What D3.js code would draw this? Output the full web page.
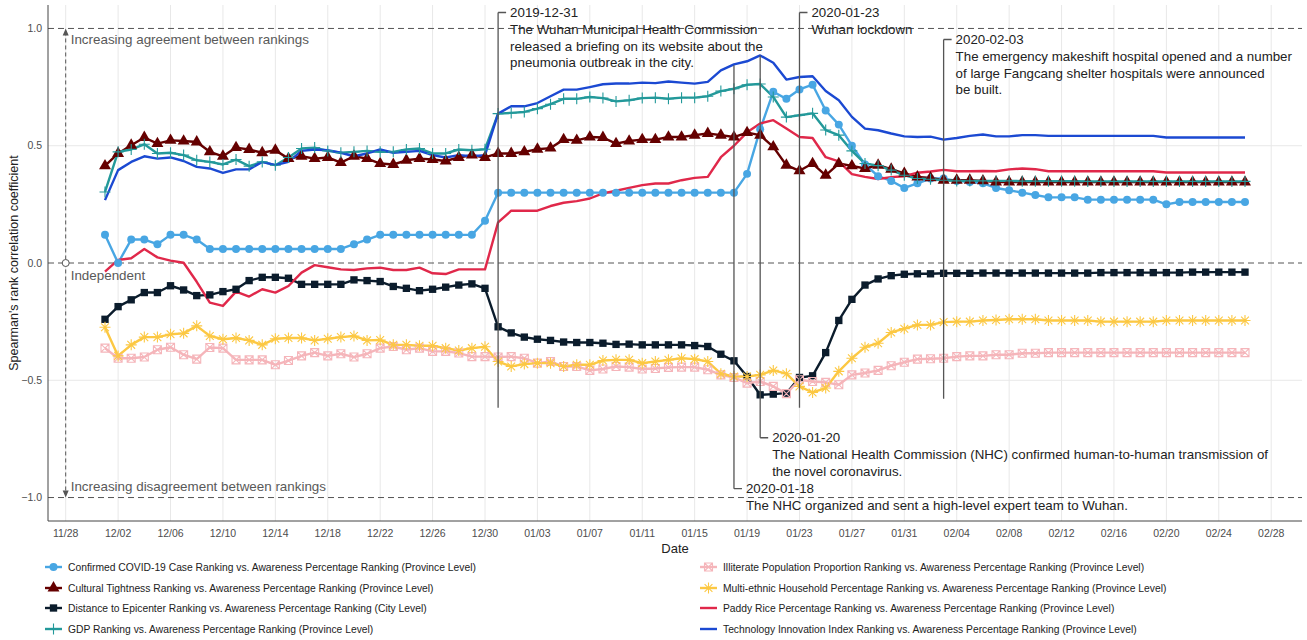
<!DOCTYPE html>
<html>
<head>
<meta charset="utf-8">
<script src="https://cdn.jsdelivr.net/npm/d3@7"></script>
<style>
body { margin: 0; background: #fff; }
svg { font-family: "Liberation Sans", Arial, sans-serif; display: block; }
</style>
</head>
<body>
<svg id="chart"></svg>
<script>
const W = 1307, H = 640;

// one value per day, 2019-12-01 .. 2020-02-26
const dates = d3.utcDay.range(new Date(Date.UTC(2019, 11, 1)), new Date(Date.UTC(2020, 1, 27)));

const confirmed = [0.12,0.00,0.10,0.10,0.08,0.12,0.12,0.10,
	0.06,0.06,0.06,0.06,0.06,0.06,0.06,0.06,0.06,0.06,0.06,
	0.08,0.10,0.12,0.12,0.12,0.12,0.12,0.12,0.12,0.12,0.18,
	0.30,0.30,0.30,0.30,0.30,0.30,0.30,0.30,0.30,0.30,0.30,0.30,0.30,0.30,0.30,0.30,0.30,0.30,0.30,
	0.38,0.57,0.73,0.70,0.74,0.76,0.65,0.59,0.50,0.42,0.37,0.35,0.32,0.34,0.36,0.36,0.35,0.345,0.34,0.32,0.31,0.30,0.29,0.28,0.28,0.28,
	0.27,0.27,0.27,0.27,0.27,0.27,0.25,0.26,0.26,0.26,0.26,0.26,0.26];

const cultural = [0.414,0.467,0.502,0.535,0.509,0.523,0.52,0.516,0.474,0.455,0.492,0.484,0.47,0.481,0.445,0.455,0.445,0.45,0.428,0.455,
	0.445,0.424,0.42,0.438,0.445,0.441,0.435,0.45,0.46,0.45,0.467,0.467,0.474,0.485,0.49,0.526,0.523,0.537,0.535,0.509,
	0.52,0.526,0.526,0.537,0.537,0.545,0.552,0.545,0.537,0.556,0.545,0.495,0.417,0.393,0.424,0.374,0.424,0.414,0.403,0.417,
	0.40,0.382,0.367,0.363,0.353,0.353,0.353,0.35,0.345,0.345,0.345,0.345,0.345,0.345,0.345,0.345,0.345,0.345,0.345,0.345,
	0.345,0.345,0.345,0.345,0.345,0.345,0.345,0.345];

const distance = [-0.24,-0.186,-0.157,-0.126,-0.126,-0.097,-0.115,-0.139,-0.136,-0.122,-0.112,-0.075,-0.061,-0.061,-0.065,-0.091,-0.091,-0.091,-0.091,-0.072,
	-0.075,-0.079,-0.10,-0.108,-0.118,-0.112,-0.103,-0.094,-0.089,-0.108,-0.272,-0.298,-0.316,-0.325,-0.33,-0.337,-0.339,-0.339,-0.342,-0.347,
	-0.346,-0.349,-0.349,-0.349,-0.349,-0.352,-0.356,-0.389,-0.417,-0.484,-0.562,-0.559,-0.555,-0.488,-0.481,-0.382,-0.245,-0.155,-0.094,-0.068,
	-0.054,-0.048,-0.046,-0.046,-0.044,-0.044,-0.044,-0.043,-0.043,-0.043,-0.043,-0.043,-0.043,-0.043,-0.043,-0.043,-0.041,-0.041,-0.041,-0.041,
	-0.041,-0.041,-0.041,-0.039,-0.039,-0.039,-0.039,-0.039];

const gdp = [0.303,0.474,0.484,0.506,0.467,0.47,0.46,0.438,0.431,0.42,0.441,0.413,0.431,0.417,0.45,0.488,0.492,0.478,0.47,0.474,
	0.478,0.474,0.474,0.484,0.488,0.467,0.467,0.484,0.481,0.485,0.637,0.64,0.644,0.658,0.677,0.70,0.70,0.708,0.703,0.689,
	0.694,0.703,0.705,0.70,0.705,0.705,0.711,0.733,0.743,0.76,0.763,0.708,0.622,0.63,0.638,0.567,0.545,0.478,0.424,0.415,
	0.396,0.374,0.36,0.357,0.353,0.35,0.35,0.35,0.35,0.35,0.349,0.349,0.349,0.349,0.349,0.348,0.348,0.348,0.348,0.348,
	0.348,0.348,0.348,0.348,0.348,0.348,0.348,0.348];

const illiterate = [-0.363,-0.406,-0.406,-0.401,-0.37,-0.359,-0.391,-0.41,-0.36,-0.363,-0.413,-0.413,-0.413,-0.434,-0.416,-0.396,-0.382,-0.396,-0.387,-0.401,
	-0.387,-0.363,-0.356,-0.37,-0.363,-0.377,-0.377,-0.384,-0.399,-0.399,-0.401,-0.399,-0.406,-0.427,-0.42,-0.441,-0.441,-0.458,-0.452,-0.441,
	-0.444,-0.452,-0.45,-0.445,-0.444,-0.444,-0.455,-0.477,-0.488,-0.512,-0.505,-0.526,-0.557,-0.498,-0.505,-0.509,-0.519,-0.477,-0.469,-0.458,
	-0.438,-0.423,-0.41,-0.408,-0.406,-0.399,-0.396,-0.396,-0.391,-0.391,-0.385,-0.385,-0.382,-0.382,-0.382,-0.382,-0.382,-0.382,-0.382,-0.382,
	-0.382,-0.382,-0.382,-0.382,-0.382,-0.382,-0.382,-0.382];

const multiEthnic = [-0.274,-0.396,-0.349,-0.316,-0.316,-0.304,-0.30,-0.268,-0.311,-0.325,-0.32,-0.33,-0.349,-0.323,-0.32,-0.32,-0.33,-0.323,-0.316,-0.311,
	-0.33,-0.328,-0.349,-0.349,-0.353,-0.353,-0.363,-0.373,-0.363,-0.357,-0.42,-0.441,-0.431,-0.427,-0.427,-0.441,-0.434,-0.434,-0.416,-0.413,
	-0.413,-0.427,-0.42,-0.413,-0.406,-0.41,-0.42,-0.472,-0.484,-0.484,-0.477,-0.458,-0.472,-0.526,-0.552,-0.533,-0.462,-0.406,-0.359,-0.342,
	-0.296,-0.28,-0.264,-0.264,-0.252,-0.25,-0.25,-0.245,-0.243,-0.24,-0.24,-0.24,-0.245,-0.245,-0.245,-0.245,-0.25,-0.25,-0.25,-0.25,
	-0.25,-0.245,-0.245,-0.245,-0.245,-0.245,-0.245,-0.245];

const paddyRice = [-0.037,0.013,0.02,0.06,0.024,0.01,0.001,-0.08,-0.169,-0.183,-0.122,-0.143,-0.112,-0.126,-0.098,-0.041,-0.009,-0.018,-0.027,-0.03,
	-0.023,-0.02,-0.03,-0.03,-0.02,-0.044,-0.047,-0.027,-0.027,-0.027,0.173,0.223,0.223,0.223,0.243,0.257,0.264,0.275,0.297,0.308,
	0.32,0.332,0.339,0.339,0.353,0.363,0.367,0.451,0.50,0.557,0.595,0.609,0.573,0.537,0.533,0.451,0.433,0.379,0.367,0.358,
	0.366,0.37,0.385,0.39,0.397,0.391,0.391,0.392,0.391,0.399,0.403,0.40,0.391,0.391,0.391,0.391,0.391,0.391,0.391,0.391,
	0.391,0.386,0.386,0.386,0.386,0.386,0.386,0.386];

const technology = [0.268,0.396,0.431,0.455,0.445,0.45,0.435,0.41,0.403,0.384,0.399,0.399,0.431,0.417,0.431,0.478,0.484,0.481,0.47,0.455,
	0.467,0.484,0.47,0.474,0.478,0.46,0.45,0.46,0.455,0.46,0.637,0.668,0.668,0.682,0.711,0.739,0.739,0.75,0.762,0.765,
	0.765,0.769,0.767,0.774,0.769,0.765,0.772,0.821,0.847,0.86,0.885,0.854,0.782,0.793,0.796,0.733,0.694,0.623,0.573,0.566,
	0.552,0.54,0.537,0.539,0.526,0.533,0.542,0.548,0.54,0.54,0.545,0.545,0.542,0.542,0.542,0.542,0.542,0.542,0.542,0.542,
	0.542,0.535,0.535,0.535,0.535,0.535,0.535,0.535];

const seriesNames = [
	"Confirmed COVID-19 Case Ranking vs. Awareness Percentage Ranking (Province Level)",
	"Cultural Tightness Ranking vs. Awareness Percentage Ranking (Province Level)",
	"Distance to Epicenter Ranking vs. Awareness Percentage Ranking (City Level)",
	"GDP Ranking vs. Awareness Percentage Ranking (Province Level)",
	"Illiterate Population Proportion Ranking vs. Awareness Percentage Ranking (Province Level)",
	"Multi-ethnic Household Percentage Ranking vs. Awareness Percentage Ranking (Province Level)",
	"Paddy Rice Percentage Ranking vs. Awareness Percentage Ranking (Province Level)",
	"Technology Innovation Index Ranking vs. Awareness Percentage Ranking (Province Level)"
];
const seriesValues = [confirmed, cultural, distance, gdp, illiterate, multiEthnic, paddyRice, technology];

const xTickDates = ["2019-11-28","2019-12-02","2019-12-06","2019-12-10","2019-12-14","2019-12-18","2019-12-22","2019-12-26","2019-12-30",
	"2020-01-03","2020-01-07","2020-01-11","2020-01-15","2020-01-19","2020-01-23","2020-01-27","2020-01-31",
	"2020-02-04","2020-02-08","2020-02-12","2020-02-16","2020-02-20","2020-02-24","2020-02-28"];
const yTicks = [-1.0, -0.5, 0.0, 0.5, 1.0];

const eventDates = ["2019-12-31", "2020-01-18", "2020-01-20", "2020-01-23", "2020-02-03"];
const eventTexts = [
	["2019-12-31", "The Wuhan Municipal Health Commission", "released a briefing on its website about the", "pneumonia outbreak in the city."],
	["2020-01-18", "The NHC organized and sent a high-level expert team to Wuhan."],
	["2020-01-20", "The National Health Commission (NHC) confirmed human-to-human transmission of", "the novel coronavirus."],
	["2020-01-23", "Wuhan lockdown"],
	["2020-02-03", "The emergency makeshift hospital opened and a number", "of large Fangcang shelter hospitals were announced", "be built."]
];

// styles / layout
const colors = ["#48a6e3", "#650000", "#0b1c2c", "#23999a", "#f5b5ba", "#fcc843", "#e0284a", "#1b49d2"];
const shapes = ["circle", "triangle", "square", "plus", "squareX", "asterisk", null, null];
// vertical span of each event line (in correlation units) and label side
const eventLayout = [
	{top: 1.068, bottom: -0.617, label: "top"},
	{top: 0.843, bottom: -0.962, label: "bottom"},
	{top: 0.885, bottom: -0.745, label: "bottom"},
	{top: 1.068, bottom: -0.617, label: "top"},
	{top: 0.953, bottom: -0.579, label: "top"}
];

const panel = {left: 48, right: 1302, top: 5, bottom: 521};
const parse = d3.utcParse("%Y-%m-%d");

const svg = d3.select('#chart').attr('width', W).attr('height', H);

const ext = d3.extent(dates);
const pad = (ext[1] - ext[0]) * 0.05;
const x = d3.scaleUtc()
	.domain([new Date(+ext[0] - pad), new Date(+ext[1] + pad)])
	.range([panel.left, panel.right]);
const y = d3.scaleLinear()
	.domain([-1.1, 1.1])
	.range([panel.bottom, panel.top]);

const tickDates = xTickDates.map(parse);

// grid
const grid = svg.append('g');
grid.selectAll('.vg').data(tickDates).enter().append('line')
	.attr('x1', d => x(d)).attr('x2', d => x(d))
	.attr('y1', panel.top).attr('y2', panel.bottom)
	.attr('stroke', '#e8e8e8').attr('stroke-width', 1);
grid.selectAll('.hg').data([-0.5, 0.5]).enter().append('line')
	.attr('x1', panel.left).attr('x2', panel.right)
	.attr('y1', d => y(d)).attr('y2', d => y(d))
	.attr('stroke', '#e8e8e8').attr('stroke-width', 1);
grid.selectAll('.ref').data([-1, 0, 1]).enter().append('line')
	.attr('x1', panel.left).attr('x2', panel.right)
	.attr('y1', d => y(d)).attr('y2', d => y(d))
	.attr('stroke', '#555').attr('stroke-width', 1)
	.attr('stroke-dasharray', '6,4');

// axes
svg.append('line').attr('x1', panel.left).attr('x2', panel.left)
	.attr('y1', panel.top).attr('y2', panel.bottom).attr('stroke', '#444');
svg.append('line').attr('x1', panel.left).attr('x2', panel.right)
	.attr('y1', panel.bottom).attr('y2', panel.bottom).attr('stroke', '#444');

svg.append('g').selectAll('text').data(yTicks).enter().append('text')
	.attr('x', panel.left - 6).attr('y', d => y(d))
	.attr('dy', '0.35em').attr('text-anchor', 'end')
	.attr('font-size', 10.5).attr('fill', '#4d4d4d')
	.text(d3.format('.1f'));

svg.append('g').selectAll('text').data(tickDates).enter().append('text')
	.attr('x', d => x(d)).attr('y', 533)
	.attr('dy', '0.35em').attr('text-anchor', 'middle')
	.attr('font-size', 10.5).attr('fill', '#4d4d4d')
	.text(d3.utcFormat('%m/%d'));

svg.append('text').attr('x', (panel.left + panel.right) / 2).attr('y', 548)
	.attr('dy', '0.35em').attr('text-anchor', 'middle')
	.attr('font-size', 13).attr('fill', '#222').text('Date');

svg.append('text')
	.attr('transform', `translate(14,${y(0)}) rotate(-90)`)
	.attr('dy', '0.35em').attr('text-anchor', 'middle')
	.attr('font-size', 12.5).attr('fill', '#222')
	.text("Spearman's rank correlation coefficient");

// agreement arrow on the left
const ax = x(parse("2019-11-28"));
const ann = svg.append('g').attr('stroke', '#555').attr('fill', '#555');
ann.append('line').attr('x1', ax).attr('x2', ax)
	.attr('y1', y(1) + 3).attr('y2', y(-1) - 3)
	.attr('stroke-dasharray', '4,3').attr('stroke-width', 1);
ann.append('path').attr('stroke', 'none')
	.attr('d', `M${ax},${y(1)}l-3,7h6z M${ax},${y(-1)}l-3,-7h6z`);
ann.append('circle').attr('cx', ax).attr('cy', y(0)).attr('r', 3.5)
	.attr('fill', '#fff').attr('stroke-width', 1);

const sideText = [["Increasing agreement between rankings", y(1) + 11],
	["Independent", y(0) + 12],
	["Increasing disagreement between rankings", y(-1) - 11]];
svg.append('g').selectAll('text').data(sideText).enter().append('text')
	.attr('x', ax + 5).attr('y', d => d[1]).attr('dy', '0.35em')
	.attr('font-size', 13.4).attr('fill', '#595959').text(d => d[0]);

// series
const data = seriesValues.map(vals => vals.map((v, i) => ({date: dates[i], v: v})));
const line = d3.line().x(d => x(d.date)).y(d => y(d.v));

const markerPath = {
	circle: d3.symbol(d3.symbolCircle, 50)(),
	triangle: d3.symbol(d3.symbolTriangle, 62)(),
	square: d3.symbol(d3.symbolSquare, 54)(),
	plus: "M-5.5,0H5.5M0,-5.5V5.5",
	squareX: "M-4,-4H4V4H-4Z M-4,-4L4,4 M4,-4L-4,4",
	asterisk: "M-5.5,0H5.5M0,-5.5V5.5M-3.9,-3.9L3.9,3.9M3.9,-3.9L-3.9,3.9"
};
const filled = {circle: true, triangle: true, square: true};

const drawMarker = (sel, shape, color) => {
	sel.attr('d', markerPath[shape])
		.attr('fill', filled[shape] ? color : 'none')
		.attr('stroke', filled[shape] ? 'none' : color)
		.attr('stroke-width', filled[shape] ? 0 : 1.1);
};

svg.append('g').selectAll('path').data(data).enter().append('path')
	.attr('d', line).attr('fill', 'none')
	.attr('stroke', (d, i) => colors[i]).attr('stroke-width', 2.4)
	.attr('stroke-linejoin', 'round');

data.forEach((s, i) => {
	if (!shapes[i]) return;
	svg.append('g').selectAll('path').data(s).enter().append('path')
		.attr('transform', d => `translate(${x(d.date)},${y(d.v)})`)
		.call(drawMarker, shapes[i], colors[i]);
});

// event annotations
const ev = svg.append('g');
eventDates.forEach((ds, k) => {
	const ex = x(parse(ds));
	const lay = eventLayout[k];
	const yt = y(lay.top), yb = y(lay.bottom);
	const hookY = lay.label === 'top' ? yt : yb;
	ev.append('path')
		.attr('d', `M${ex},${yb}V${yt}` + `M${ex},${hookY}H${ex + 8}`)
		.attr('fill', 'none').attr('stroke', '#555').attr('stroke-width', 1.3);
	const t = ev.append('text').attr('font-size', 13.3).attr('fill', '#222');
	eventTexts[k].forEach((s, j) => {
		t.append('tspan').attr('x', ex + 12).attr('y', hookY + j * 16.7)
			.attr('dy', '0.35em').text(s);
	});
});

// legend
const legendX = [45, 700];
const legendY = [567, 588, 608, 629];
const lg = svg.append('g');
seriesNames.forEach((name, i) => {
	const col = Math.floor(i / 4), row = i % 4;
	const g = lg.append('g').attr('transform', `translate(${legendX[col]},${legendY[row]})`);
	g.append('line').attr('x1', 0).attr('x2', 17).attr('y1', 0).attr('y2', 0)
		.attr('stroke', colors[i]).attr('stroke-width', 2.4);
	if (shapes[i]) g.append('path').attr('transform', 'translate(8.5,0)').call(drawMarker, shapes[i], colors[i]);
	g.append('text').attr('x', 23).attr('y', 0).attr('dy', '0.35em')
		.attr('font-size', 10.3).attr('fill', '#222').text(name);
});
</script>
</body>
</html>
